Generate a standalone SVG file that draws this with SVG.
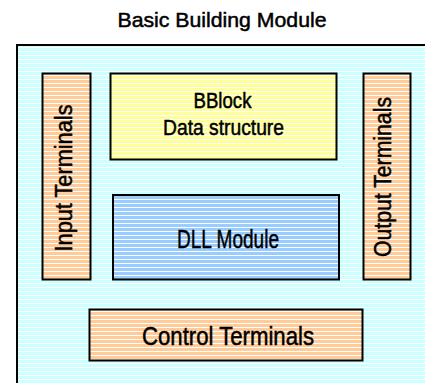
<svg xmlns="http://www.w3.org/2000/svg" width="425" height="383" viewBox="0 0 425 383">
<defs>
<pattern id="pc" width="8" height="4" patternUnits="userSpaceOnUse"><rect width="8" height="4" fill="#CCFFFF"/><rect y="3" width="8" height="1" fill="#FFFFFF"/></pattern>
<pattern id="py" width="8" height="4" patternUnits="userSpaceOnUse"><rect width="8" height="4" fill="#FFFF99"/><rect y="3" width="8" height="1" fill="#FFFFFF"/></pattern>
<pattern id="pb" width="8" height="4" patternUnits="userSpaceOnUse"><rect width="8" height="4" fill="#99CCFF"/><rect y="3" width="8" height="1" fill="#FFFFFF"/></pattern>
<pattern id="po" width="8" height="4" patternUnits="userSpaceOnUse"><rect width="8" height="4" fill="#FFCC99"/><rect y="3" width="8" height="1" fill="#FFFFFF"/></pattern>
</defs>
<style>
.box{stroke:#000;stroke-width:2}
text{font-family:"Liberation Sans",Arial,sans-serif;fill:#000;stroke:#000;stroke-width:0.5;text-anchor:middle}
</style>
<rect width="425" height="383" fill="#FFFFFF"/>
<text x="222" y="27" font-size="21" textLength="209" lengthAdjust="spacingAndGlyphs">Basic Building Module</text>
<g id="module">
<rect class="box" x="17" y="45" width="420" height="350" fill="url(#pc)"/>
</g>
<g id="input">
<rect class="box" x="42.5" y="73.5" width="48" height="206" fill="url(#po)"/>
<text transform="translate(72,178) rotate(-90)" font-size="23" textLength="147" lengthAdjust="spacingAndGlyphs">Input Terminals</text>
</g>
<g id="output">
<rect class="box" x="363.5" y="73.5" width="47" height="206" fill="url(#po)"/>
<text transform="translate(390.5,177) rotate(-90)" font-size="23" textLength="160" lengthAdjust="spacingAndGlyphs">Output Terminals</text>
</g>
<g id="bblock">
<rect class="box" x="110.5" y="73.5" width="226" height="86" fill="url(#py)"/>
<text x="222.5" y="108" font-size="22" textLength="58" lengthAdjust="spacingAndGlyphs">BBlock</text>
<text x="223.5" y="135" font-size="22" textLength="121" lengthAdjust="spacingAndGlyphs">Data structure</text>
</g>
<g id="dll">
<rect class="box" x="113" y="195" width="226" height="84.5" fill="url(#pb)"/>
<text x="228" y="248" font-size="26" textLength="102" lengthAdjust="spacingAndGlyphs">DLL Module</text>
</g>
<g id="control">
<rect class="box" x="89.5" y="309.5" width="273" height="51" fill="url(#po)"/>
<text x="228" y="344.5" font-size="25" textLength="172" lengthAdjust="spacingAndGlyphs">Control Terminals</text>
</g>
<g id="connectors"></g>
</svg>
